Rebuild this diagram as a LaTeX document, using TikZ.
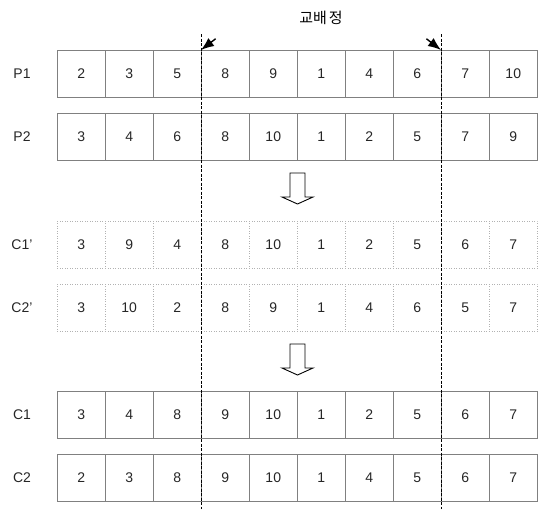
\documentclass[tikz,border=0pt]{standalone}
\usepackage{fontspec}
\setmainfont{Liberation Sans}
\newfontfamily\krfont{Noto Sans CJK KR}
\usetikzlibrary{arrows.meta}
\begin{document}
\begin{tikzpicture}[x=1pt,y=-1pt,
  cellP/.style={draw=black!50, line width=0.5pt, minimum width=48pt, minimum height=47pt,
     inner sep=0pt, anchor=north west, font=\fontsize{14}{14}\selectfont, text=black!85},
  cellF/.style={cellP, draw=black!30, dotted},
  rowlab/.style={font=\fontsize{14}{14}\selectfont, text=black!85},
  cutline/.style={black, line width=1pt, dash pattern=on 3pt off 1.5pt},
  marker/.style={-{Latex[length=13pt,width=10pt]}, line width=1.4pt, black, shorten <=-2pt},
  blockarrow/.style={draw=black, line width=0.9pt, fill=white, line join=miter}]
\path[use as bounding box] (0,0) rectangle (538,509);

% title
\node[font=\krfont\fontsize{15}{15}\selectfont] (title) at (321,18) {교배\hspace{2pt}정};

% rows
\foreach \r/\y/\lab/\vals/\sty in {
  pa/50/P1/{2,3,5,8,9,1,4,6,7,10}/cellP,
  pb/113/P2/{3,4,6,8,10,1,2,5,7,9}/cellP,
  ca/221/C1'/{3,9,4,8,10,1,2,5,6,7}/cellF,
  cb/284/C2'/{3,10,2,8,9,1,4,6,5,7}/cellF,
  da/391/C1/{3,4,8,9,10,1,2,5,6,7}/cellP,
  db/454/C2/{2,3,8,9,10,1,4,5,6,7}/cellP}{
  \node[rowlab] (\r lab) at (22,\y+23.5) {\lab};
  \foreach \v [count=\i] in \vals {
    \node[\sty] (\r\i) at ({57+48*(\i-1)},\y) {\v};
  }
}

% crossover cut lines
\coordinate (cutLtop) at (201,34);
\coordinate (cutLbot) at (201,509);
\coordinate (cutRtop) at (441,34);
\coordinate (cutRbot) at (441,509);
\draw[cutline] (cutLtop) -- (cutLbot);
\draw[cutline] (cutRtop) -- (cutRbot);

% crossover point markers
\coordinate (mkLtail) at (214,40);
\coordinate (mkRtail) at (428,40);
\draw[marker] (mkLtail) -- (pa4.north west);
\draw[marker] (mkRtail) -- (pa9.north west);

% block arrows
\foreach \t/\n in {173/arrA,344/arrB}{
  \draw[blockarrow] (290,\t) -- (305,\t) -- (305,\t+24) -- (313,\t+24) -- (297.5,\t+31)
     -- (282,\t+24) -- (290,\t+24) -- cycle;
}
\end{tikzpicture}
\end{document}
